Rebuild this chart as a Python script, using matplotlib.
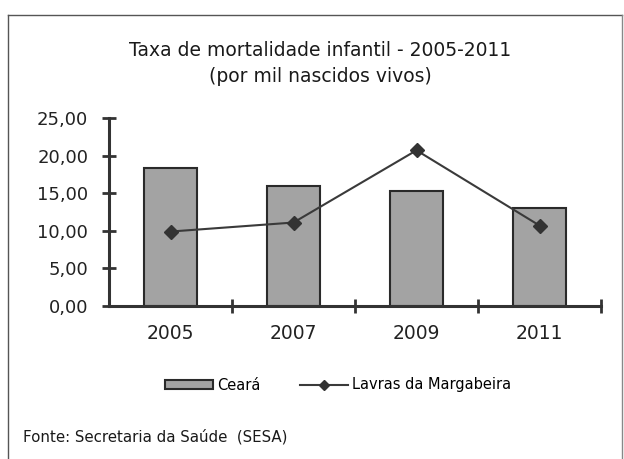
import matplotlib
matplotlib.use("Agg")
import matplotlib.pyplot as plt
from matplotlib.patches import Rectangle
from matplotlib.lines import Line2D

years = ["2005", "2007", "2009", "2011"]
ceara = [18.3, 16.0, 15.3, 13.0]
lavras = [9.9, 11.1, 20.7, 10.7]
yticks = [0, 5, 10, 15, 20, 25]
ytick_labels = ["0,00", "5,00", "10,00", "15,00", "20,00", "25,00"]

plt.rcParams['font.family'] = ['DejaVu Sans']

fig = plt.figure(figsize=(6.24, 4.59), dpi=100)
fig.patch.set_facecolor('white')

ax = fig.add_axes([109/624, 1-306/459, (601-109)/624, (306-118)/459])
x = list(range(len(years)))
dark = '#333333'
ax.bar(x, ceara, width=0.43, color='#a3a3a3', edgecolor='#2a2a2a', linewidth=1.5, zorder=2)
ax.plot(x, lavras, color='#3a3a3a', linewidth=1.5, marker='D', markersize=7,
        markerfacecolor='#333333', markeredgecolor='#333333', zorder=3)

ax.set_xlim(-0.5, 3.5)
ax.set_ylim(0, 25)
ax.set_yticks(yticks)
ax.set_yticklabels(ytick_labels, fontsize=13, color='#222222')
ax.set_xticks(x)
ax.set_xticklabels(years, fontsize=13.5, color='#222222')
ax.set_xticks([0.5, 1.5, 2.5, 3.5], minor=True)
ax.tick_params(axis='x', which='major', length=0, pad=13)
ax.tick_params(axis='x', which='minor', length=10, width=2, direction='inout', color=dark)
ax.tick_params(axis='y', length=10, width=2, direction='inout', color=dark, pad=10)
for s in ['top', 'right']:
    ax.spines[s].set_visible(False)
for s in ['left', 'bottom']:
    ax.spines[s].set_linewidth(2.2)
    ax.spines[s].set_color(dark)
ax.set_facecolor('none')

fig.text(320/624, 1 - 50/459, "Taxa de mortalidade infantil - 2005-2011",
         ha='center', va='center', fontsize=13.5, color='#1a1a1a')
fig.text(320/624, 1 - 76/459, "(por mil nascidos vivos)",
         ha='center', va='center', fontsize=13.5, color='#1a1a1a')

# legend
leg_handles = [Rectangle((0, 0), 1, 1, facecolor='#a3a3a3', edgecolor='#2a2a2a', linewidth=1.5),
               Line2D([0], [0], color='#3a3a3a', linewidth=1.5, marker='D', markersize=5,
                      markerfacecolor='#333333', markeredgecolor='#333333')]
fig.legend(leg_handles, ["Ceará", "Lavras da Margabeira"], loc='center',
           bbox_to_anchor=(338/624, 1 - 385/459), ncol=2, frameon=False, fontsize=10.5,
           handlelength=3.3, handleheight=0.6, handletextpad=0.3, columnspacing=2.7)

fig.text(23/624, 1 - 437/459, "Fonte: Secretaria da Saúde  (SESA)", ha='left', va='center',
         fontsize=10.8, color='#1a1a1a')

# outer frame
fig.add_artist(Line2D([8/624, 8/624], [0, 1 - 15/459], transform=fig.transFigure, color='#555555', linewidth=1))
fig.add_artist(Line2D([8/624, 622/624], [1 - 15/459, 1 - 15/459], transform=fig.transFigure, color='#555555', linewidth=1))
fig.add_artist(Line2D([622/624, 622/624], [0, 1 - 15/459], transform=fig.transFigure, color='#888888', linewidth=1))

fig.savefig("out.png", dpi=100, facecolor='white')
